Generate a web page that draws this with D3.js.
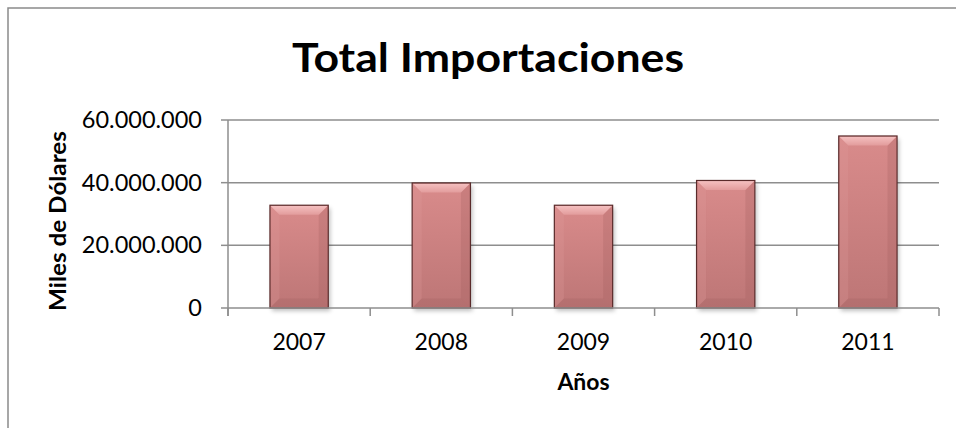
<!DOCTYPE html>
<html>
<head>
<meta charset="utf-8">
<script src="https://cdn.jsdelivr.net/npm/d3@7/dist/d3.min.js"></script>
<style>
  html, body { margin: 0; padding: 0; background: #fff; }
  svg { display: block; }
  text { font-family: Lato, "Open Sans", sans-serif; fill: #000; }
</style>
</head>
<body>
<svg id="chart" width="956" height="428"></svg>
<script>
// ---- Data ----
const categories = ["2007", "2008", "2009", "2010", "2011"];
const values = [32800000, 39900000, 32800000, 40700000, 54900000];
const yTicks = [0, 20000000, 40000000, 60000000];
const titleText = "Total Importaciones";
const xTitle = "Años";
const yTitle = "Miles de Dólares";

// ---- Layout ----
const W = 956, H = 428;
const plot = { left: 228, right: 939, top: 120, bottom: 308 };

const svg = d3.select("#chart");

const fmt = v => d3.format(",")(v).replace(/,/g, ".");

const x = d3.scaleBand()
  .domain(categories)
  .range([plot.left, plot.right])
  .paddingInner(0.59)
  .paddingOuter(0.295);

const y = d3.scaleLinear()
  .domain([0, 60000000])
  .range([plot.bottom, plot.top]);

// defs
const defs = svg.append("defs");
const g1 = defs.append("linearGradient").attr("id", "barFill")
  .attr("x1", 0).attr("y1", 0).attr("x2", 0).attr("y2", 1);
g1.append("stop").attr("offset", "0%").attr("stop-color", "#d98b8b");
g1.append("stop").attr("offset", "100%").attr("stop-color", "#bd7676");
const g2 = defs.append("linearGradient").attr("id", "bevelTop")
  .attr("x1", 0).attr("y1", 0).attr("x2", 0).attr("y2", 1);
g2.append("stop").attr("offset", "0%").attr("stop-color", "#f5c0c0");
g2.append("stop").attr("offset", "100%").attr("stop-color", "#e29c9c");
const f = defs.append("filter").attr("id", "shadow")
  .attr("x", "-20%").attr("y", "-20%").attr("width", "140%").attr("height", "140%");
f.append("feGaussianBlur").attr("stdDeviation", 2);

// frame (cropped chart area border)
svg.append("path")
  .attr("d", `M8,${H + 5} L8,8 L${W + 5},8`)
  .attr("fill", "none")
  .attr("stroke", "#8a8a8a")
  .attr("stroke-width", 1.5);

// gridlines
svg.append("g").selectAll("line")
  .data(yTicks.filter(d => d > 0))
  .join("line")
  .attr("x1", plot.left).attr("x2", plot.right)
  .attr("y1", d => y(d)).attr("y2", d => y(d))
  .attr("stroke", "#8e8e8e").attr("stroke-width", 1.5);

// y axis line and ticks
svg.append("line")
  .attr("x1", plot.left).attr("x2", plot.left)
  .attr("y1", y(60000000)).attr("y2", plot.bottom + 8)
  .attr("stroke", "#8e8e8e").attr("stroke-width", 1.5);
svg.append("g").selectAll("line")
  .data(yTicks)
  .join("line")
  .attr("x1", plot.left - 7).attr("x2", plot.left)
  .attr("y1", d => y(d)).attr("y2", d => y(d))
  .attr("stroke", "#8e8e8e").attr("stroke-width", 1.5);

// y labels
svg.append("g").selectAll("text")
  .data(yTicks)
  .join("text")
  .attr("x", 202)
  .attr("y", d => y(d) + 8)
  .attr("text-anchor", "end")
  .attr("font-size", 23.5)
  .text(d => fmt(d));

// bars
const bars = svg.append("g").selectAll("g")
  .data(categories.map((c, i) => ({ c, v: values[i] })))
  .join("g");

bars.append("rect")
  .attr("x", d => x(d.c) + 2)
  .attr("y", d => y(d.v) + 3)
  .attr("width", x.bandwidth())
  .attr("height", d => y(0) - y(d.v))
  .attr("fill", "rgba(0,0,0,0.25)")
  .attr("filter", "url(#shadow)");

bars.append("rect")
  .attr("x", d => x(d.c))
  .attr("y", d => y(d.v))
  .attr("width", x.bandwidth())
  .attr("height", d => y(0) - y(d.v))
  .attr("fill", "url(#barFill)");

const bev = 9;
bars.append("path")
  .attr("d", d => {
    const x0 = x(d.c) + 0.5, y0 = y(d.v) + 0.5, y1 = y(0) - 0.5;
    return `M${x0},${y0} L${x0 + bev},${y0 + bev} L${x0 + bev},${y1 - bev} L${x0},${y1} Z`;
  })
  .attr("fill", "#e09a9a").attr("opacity", 0.25);
bars.append("path")
  .attr("d", d => {
    const x1 = x(d.c) + x.bandwidth() - 0.5, y0 = y(d.v) + 0.5, y1 = y(0) - 0.5;
    return `M${x1},${y0} L${x1 - bev},${y0 + bev} L${x1 - bev},${y1 - bev} L${x1},${y1} Z`;
  })
  .attr("fill", "#a05c5c").attr("opacity", 0.25);
bars.append("path")
  .attr("d", d => {
    const x0 = x(d.c) + 0.5, x1 = x(d.c) + x.bandwidth() - 0.5, y1 = y(0) - 0.5;
    return `M${x0},${y1} L${x0 + bev},${y1 - bev} L${x1 - bev},${y1 - bev} L${x1},${y1} Z`;
  })
  .attr("fill", "#9c5a5a").attr("opacity", 0.25);
bars.append("path")
  .attr("d", d => {
    const x0 = x(d.c) + 0.5, x1 = x(d.c) + x.bandwidth() - 0.5, y0 = y(d.v) + 0.5;
    return `M${x0},${y0} L${x1},${y0} L${x1 - bev},${y0 + bev} L${x0 + bev},${y0 + bev} Z`;
  })
  .attr("fill", "url(#bevelTop)");
bars.append("rect")
  .attr("x", d => x(d.c))
  .attr("y", d => y(d.v))
  .attr("width", x.bandwidth())
  .attr("height", d => y(0) - y(d.v))
  .attr("fill", "none")
  .attr("stroke", "#5a2b2b")
  .attr("stroke-width", 1.2);

// x axis line and ticks (at category boundaries)
const step = x.step();
svg.append("line")
  .attr("x1", plot.left).attr("x2", plot.right)
  .attr("y1", plot.bottom).attr("y2", plot.bottom)
  .attr("stroke", "#8e8e8e").attr("stroke-width", 1.5);
const boundaries = categories.map(c => x(c) - x.paddingInner() * step / 2)
  .concat([x(categories[categories.length - 1]) + x.bandwidth() + x.paddingInner() * step / 2]);
svg.append("g").selectAll("line")
  .data(boundaries)
  .join("line")
  .attr("x1", d => d).attr("x2", d => d)
  .attr("y1", plot.bottom).attr("y2", plot.bottom + 8)
  .attr("stroke", "#8e8e8e").attr("stroke-width", 1.5);

// x labels
svg.append("g").selectAll("text")
  .data(categories)
  .join("text")
  .attr("x", d => x(d) + x.bandwidth() / 2)
  .attr("y", 350)
  .attr("text-anchor", "middle")
  .attr("font-size", 23)
  .text(d => d);

// title
svg.append("text")
  .attr("x", 488).attr("y", 72)
  .attr("text-anchor", "middle")
  .attr("font-size", 41)
  .attr("font-weight", "bold")
  .attr("textLength", 392)
  .attr("lengthAdjust", "spacingAndGlyphs")
  .text(titleText);

// axis titles
svg.append("text")
  .attr("x", 583.5).attr("y", 390)
  .attr("text-anchor", "middle")
  .attr("font-size", 23)
  .attr("font-weight", "bold")
  .text(xTitle);

svg.append("text")
  .attr("transform", "translate(66,221) rotate(-90)")
  .attr("text-anchor", "middle")
  .attr("font-size", 23)
  .attr("font-weight", "bold")
  .attr("textLength", 180)
  .attr("lengthAdjust", "spacingAndGlyphs")
  .text(yTitle);
</script>
</body>
</html>
